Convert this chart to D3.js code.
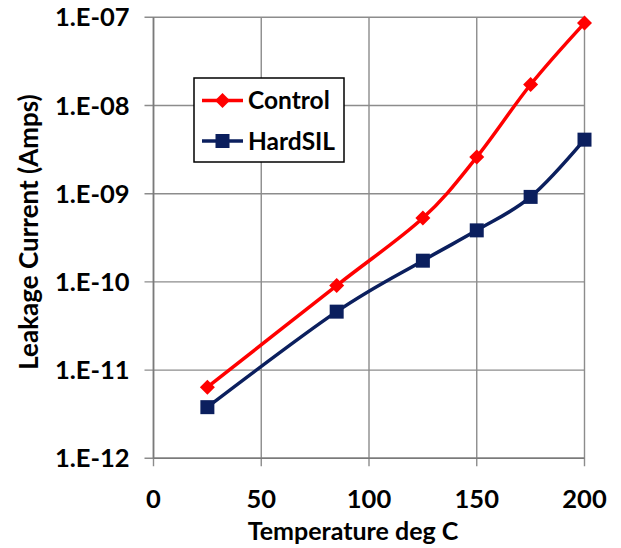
<!DOCTYPE html>
<html>
<head>
<meta charset="utf-8">
<script src="https://cdn.jsdelivr.net/npm/d3@7"></script>
<style>
  body { margin: 0; background: #fff; }
  text { font-family: Lato, "Open Sans", sans-serif; font-weight: bold; fill: #000; }
</style>
</head>
<body>
<svg id="chart" width="621" height="548"></svg>
<script>
// data
const temps = [25, 85, 125, 150, 175, 200];
const control = [6.4e-12, 9.1e-11, 5.3e-10, 2.6e-9, 1.73e-8, 8.6e-8];
const hardsil = [3.8e-12, 4.6e-11, 1.74e-10, 3.84e-10, 9.2e-10, 4.1e-9];
const xTicks = [0, 50, 100, 150, 200];
const yTicks = [1e-12, 1e-11, 1e-10, 1e-9, 1e-8, 1e-7];
const yTickLabels = ["1.E-12", "1.E-11", "1.E-10", "1.E-09", "1.E-08", "1.E-07"];
const seriesNames = ["Control", "HardSIL"];
const seriesColors = ["#ff0000", "#0b1f5e"];

const svg = d3.select("#chart");

const x = d3.scaleLinear().domain([0, 200]).range([153.5, 584.5]);
const y = d3.scaleLog().domain([1e-12, 1e-7]).range([458.3, 17.3]);

const grid = svg.append("g").attr("id", "grid");

// horizontal gridlines with small outward ticks
grid.selectAll("line.h")
    .data(yTicks)
    .enter()
    .append("line")
    .attr("class", "h")
    .attr("x1", x(0) - 9)
    .attr("x2", x(200))
    .attr("y1", (d) => y(d))
    .attr("y2", (d) => y(d))
    .attr("stroke", "#8c8c8c")
    .attr("stroke-width", 1.4);

grid.selectAll("line.v")
    .data(xTicks)
    .enter()
    .append("line")
    .attr("class", "v")
    .attr("x1", (d) => x(d))
    .attr("x2", (d) => x(d))
    .attr("y1", y(1e-7))
    .attr("y2", y(1e-12) + 8)
    .attr("stroke", "#8c8c8c")
    .attr("stroke-width", 1.4);

// axis lines a bit darker
grid.append("line")
    .attr("x1", x(0)).attr("x2", x(0))
    .attr("y1", y(1e-7)).attr("y2", y(1e-12))
    .attr("stroke", "#7a7a7a").attr("stroke-width", 1.6);
grid.append("line")
    .attr("x1", x(0)).attr("x2", x(200))
    .attr("y1", y(1e-12)).attr("y2", y(1e-12))
    .attr("stroke", "#7a7a7a").attr("stroke-width", 1.6);

// tick labels
svg.append("g").selectAll("text")
   .data(yTicks)
   .enter()
   .append("text")
   .attr("x", x(0) - 24)
   .attr("y", (d) => y(d))
   .attr("dy", "0.36em")
   .attr("text-anchor", "end")
   .style("font-size", "25.5px")
   .text((d, i) => yTickLabels[i]);

svg.append("g").selectAll("text")
   .data(xTicks)
   .enter()
   .append("text")
   .attr("x", (d) => x(d))
   .attr("y", 508)
   .attr("text-anchor", "middle")
   .style("font-size", "25.5px")
   .text((d) => d);

// axis titles
svg.append("text")
   .attr("x", 353)
   .attr("y", 540)
   .attr("text-anchor", "middle")
   .style("font-size", "25px")
   .text("Temperature deg C");

svg.append("text")
   .attr("transform", "translate(38,232) rotate(-90)")
   .attr("text-anchor", "middle")
   .style("font-size", "26px")
   .text("Leakage Current (Amps)");

// series
const line = d3.line()
  .x((d) => x(d[0]))
  .y((d) => y(d[1]))
  .curve(d3.curveCardinal.tension(0));

const series = [control, hardsil].map((vals, i) => ({
  name: seriesNames[i],
  color: seriesColors[i],
  points: temps.map((t, j) => [t, vals[j]])
}));

const diamond = "M0,-7.5L7.5,0L0,7.5L-7.5,0Z";
const square = "M-7,-7H7V7H-7Z";

series.forEach((s, i) => {
  svg.append("path")
     .attr("d", line(s.points))
     .attr("fill", "none")
     .attr("stroke", s.color)
     .attr("stroke-width", 3.5);

  svg.append("g").selectAll("path")
     .data(s.points)
     .enter()
     .append("path")
     .attr("transform", (d) => "translate(" + x(d[0]) + "," + y(d[1]) + ")")
     .attr("d", i === 0 ? diamond : square)
     .attr("fill", s.color);
});

// legend
const legend = svg.append("g").attr("transform", "translate(194,78)");
legend.append("rect")
      .attr("width", 150).attr("height", 84)
      .attr("fill", "#fff")
      .attr("stroke", "#000").attr("stroke-width", 1.5);

series.forEach((s, i) => {
  const ly = 22.5 + i * 40.5;
  legend.append("line")
        .attr("x1", 8).attr("x2", 49)
        .attr("y1", ly).attr("y2", ly)
        .attr("stroke", s.color).attr("stroke-width", 3.5);
  legend.append("path")
        .attr("transform", "translate(28.5," + ly + ")")
        .attr("d", i === 0 ? diamond : square)
        .attr("fill", s.color);
  legend.append("text")
        .attr("x", 54).attr("y", ly)
        .attr("dy", "0.36em")
        .style("font-size", "24.5px")
        .text(s.name);
});
</script>
</body>
</html>
